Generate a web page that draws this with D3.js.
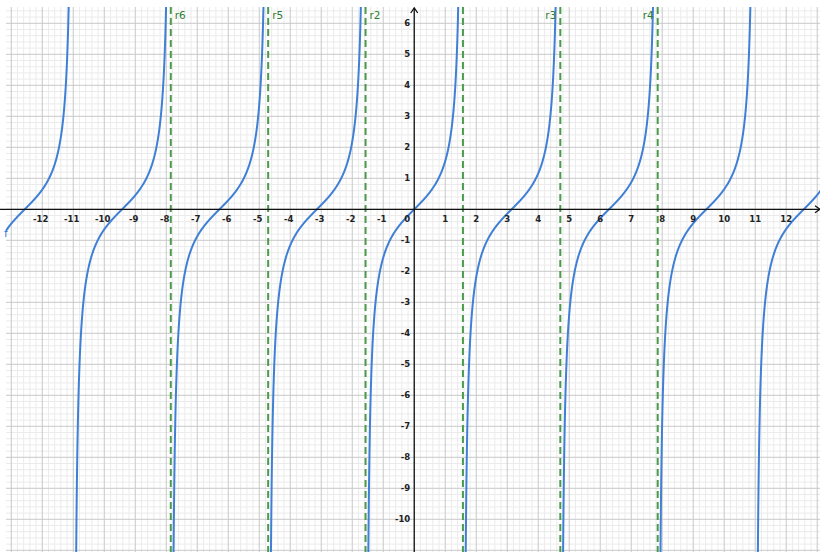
<!DOCTYPE html>
<html><head><meta charset="utf-8">
<script src="https://cdn.jsdelivr.net/npm/d3@7"></script>
<style>html,body{margin:0;padding:0;background:#fff;}svg{display:block;}</style>
</head><body>
<svg id="c" width="820" height="552"></svg>
<script>
// ---- data ----
const xTicks = [-12,-11,-10,-9,-8,-7,-6,-5,-4,-3,-2,-1,1,2,3,4,5,6,7,8,9,10,11,12];
const yTicks = [6,5,4,3,2,1,-1,-2,-3,-4,-5,-6,-7,-8,-9,-10];
const asymptoteX = [-5*Math.PI/2, -3*Math.PI/2, -Math.PI/2, Math.PI/2, 3*Math.PI/2, 5*Math.PI/2];
const asymptoteLabel = ["r6","r5","r2","","r3","r4"];
const asymptoteSide = ["right","right","right","right","left","left"];
const branchCenters = [-4,-3,-2,-1,0,1,2,3,4]; // k in k*pi
const curveFn = Math.tan; // f(x) = tan(x)
const curveName = "f";

// ---- layout ----
const W = 820, H = 552;
const x = d3.scaleLinear().domain([-13.17, 13.09]).range([6, 820]);
const y = d3.scaleLinear().domain([6.526, -11.055]).range([7, 552]);
const svg = d3.select("#c");

svg.append("defs").append("clipPath").attr("id","clip")
  .append("rect").attr("x",6).attr("y",7).attr("width",W-6).attr("height",H-7);
const g = svg.append("g").attr("clip-path","url(#clip)");

// minor grid
const xd = x.domain(), yd = y.domain();
const minorX = d3.range(Math.ceil(xd[0]*5), Math.floor(xd[1]*5)+1).map(v=>v/5).filter(v=>Math.abs(v-Math.round(v))>1e-6);
const minorY = d3.range(Math.ceil(yd[1]*5), Math.floor(yd[0]*5)+1).map(v=>v/5).filter(v=>Math.abs(v-Math.round(v))>1e-6);
g.selectAll(".mx").data(minorX).join("line").attr("x1",d=>x(d)).attr("x2",d=>x(d)).attr("y1",0).attr("y2",H)
  .attr("stroke","#ebebeb").attr("stroke-width",1);
g.selectAll(".my").data(minorY).join("line").attr("y1",d=>y(d)).attr("y2",d=>y(d)).attr("x1",0).attr("x2",W)
  .attr("stroke","#ebebeb").attr("stroke-width",1);
// major grid
const majorX = d3.range(Math.ceil(xd[0]), Math.floor(xd[1])+1);
const majorY = d3.range(Math.ceil(yd[1]), Math.floor(yd[0])+1);
g.selectAll(".Mx").data(majorX).join("line").attr("x1",d=>x(d)).attr("x2",d=>x(d)).attr("y1",0).attr("y2",H)
  .attr("stroke","#c8c8c8").attr("stroke-width",1);
g.selectAll(".My").data(majorY).join("line").attr("y1",d=>y(d)).attr("y2",d=>y(d)).attr("x1",0).attr("x2",W)
  .attr("stroke","#c8c8c8").attr("stroke-width",1);

// axes
svg.append("line").attr("x1",0).attr("x2",W).attr("y1",y(0)).attr("y2",y(0)).attr("stroke","#111").attr("stroke-width",1.3);
svg.append("line").attr("x1",x(0)).attr("x2",x(0)).attr("y1",8).attr("y2",H).attr("stroke","#111").attr("stroke-width",1.3);
svg.append("path").attr("d",`M${x(0)-3.5},${13} L${x(0)},${8} L${x(0)+3.5},${13}`).attr("fill","none").attr("stroke","#111").attr("stroke-width",1.3);
svg.append("path").attr("d",`M${W-5},${y(0)-3.5} L${W},${y(0)} L${W-5},${y(0)+3.5}`).attr("fill","none").attr("stroke","#111").attr("stroke-width",1.3);

// tick labels
const lab = svg.append("g").attr("font-family","DejaVu Sans, sans-serif").attr("font-size",8.5).attr("font-weight","bold").attr("fill","#222");
lab.selectAll(".xt").data(xTicks).join("text").attr("x",d=>x(d)+(d<0?-1.5:0)).attr("y",y(0)+12.5).attr("text-anchor","middle").text(d=>d<0?"-"+Math.abs(d):d);
lab.selectAll(".yt").data(yTicks).join("text").attr("x",x(0)-4).attr("y",d=>y(d)+3).attr("text-anchor","end").text(d=>d<0?"-"+Math.abs(d):d);
lab.append("text").attr("x",x(0)-4).attr("y",y(0)+12.5).attr("text-anchor","end").text("0");

// asymptotes
g.selectAll(".as").data(asymptoteX).join("line").attr("x1",d=>x(d)).attr("x2",d=>x(d)).attr("y1",7).attr("y2",H)
  .attr("stroke","#4c9a4c").attr("stroke-width",2).attr("stroke-dasharray","7,4");
svg.selectAll(".al").data(asymptoteX).join("text")
  .attr("x",(d,i)=>asymptoteSide[i]==="right"? x(d)+4 : x(d)-4)
  .attr("y",19).attr("text-anchor",(d,i)=>asymptoteSide[i]==="right"?"start":"end")
  .attr("font-family","DejaVu Sans, sans-serif").attr("font-size",10.5).attr("fill","#2f7d2f")
  .text((d,i)=>asymptoteLabel[i]);

// curve branches
const line = d3.line().x(d=>x(d[0])).y(d=>y(d[1]));
branchCenters.forEach(k=>{
  const a = Math.max(k*Math.PI - Math.PI/2 + 0.002, xd[0]-0.05);
  const b = Math.min(k*Math.PI + Math.PI/2 - 0.002, xd[1]+0.05);
  const pts = [];
  const n = 600;
  for(let i=0;i<=n;i++){
    const t = a + (b-a)*i/n;
    let v = curveFn(t);
    if (v > 20) v = 20; if (v < -20) v = -20;
    pts.push([t,v]);
  }
  g.append("path").attr("d",line(pts)).attr("fill","none").attr("stroke","#3f7fd6").attr("stroke-width",2);
});
svg.append("text").attr("x",4).attr("y",237).attr("font-family","DejaVu Sans, sans-serif").attr("font-size",11).attr("fill","#3f7fd6").text(curveName);
</script>
</body></html>
